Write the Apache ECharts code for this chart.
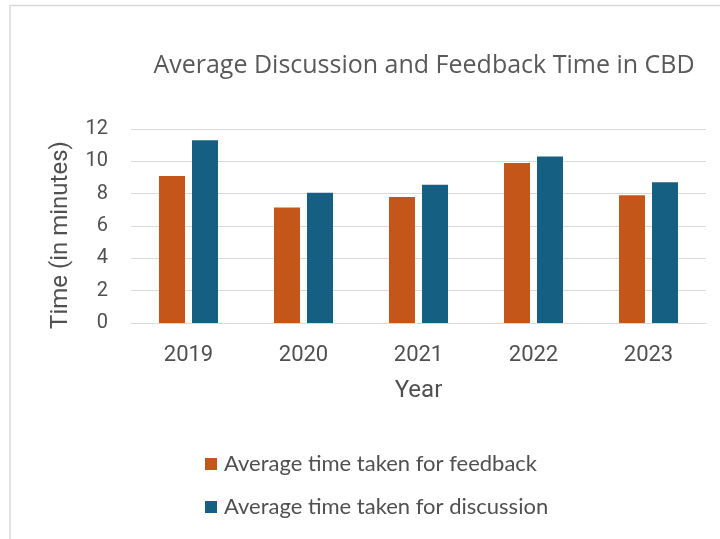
<!DOCTYPE html>
<html>
<head>
<meta charset="utf-8">
<script src="https://cdn.jsdelivr.net/npm/echarts@6/dist/echarts.min.js"></script>
<style>
  html, body { margin: 0; padding: 0; background: #ffffff; }
  #chart { width: 720px; height: 539px; }
</style>
</head>
<body>
<div id="chart"></div>
<script>
// Years on the category axis
const years = ['2019', '2020', '2021', '2022', '2023'];
// Average minutes per year
const feedbackTime = [9.1, 7.15, 7.8, 9.9, 7.9];
const discussionTime = [11.3, 8.05, 8.55, 10.3, 8.7];
// Value-axis ticks
const yTicks = [0, 2, 4, 6, 8, 10, 12];

const seriesNames = ['Average time taken for feedback', 'Average time taken for discussion'];
const colors = ['#C4561A', '#156082'];

const chart = echarts.init(document.getElementById('chart'), null, { renderer: 'canvas' });

chart.setOption({
  animation: false,
  backgroundColor: '#ffffff',
  graphic: [
    {
      type: 'polyline',
      shape: { points: [[10, 540], [10, 5.5], [720, 5.5]] },
      style: { stroke: '#d9d9d9', lineWidth: 1.5, fill: null }
    }
  ],
  title: {
    text: 'Average Discussion and Feedback Time in CBD',
    left: 419,
    top: 48,
    textAlign: 'center',
    textStyle: {
      fontFamily: 'Open Sans',
      fontWeight: 'normal',
      fontSize: 25,
      color: '#595959'
    }
  },
  legend: {
    orient: 'vertical',
    left: 200,
    top: 448,
    itemGap: 21,
    itemWidth: 12,
    itemHeight: 12,
    icon: 'rect',
    data: seriesNames,
    textStyle: {
      fontFamily: 'Lato',
      fontSize: 22,
      color: '#505050',
      padding: [0, 0, 0, 2]
    }
  },
  grid: {
    left: 131,
    right: 14,
    top: 129,
    bottom: 539 - 323
  },
  xAxis: {
    type: 'category',
    data: years,
    name: 'Year',
    nameLocation: 'middle',
    nameGap: 56,
    nameTextStyle: {
      fontFamily: 'Roboto',
      fontSize: 24,
      color: '#505050'
    },
    axisLine: { show: true, lineStyle: { color: '#d9d9d9', width: 1 } },
    axisTick: { show: false },
    axisLabel: {
      margin: 21,
      fontFamily: 'Roboto',
      fontSize: 22,
      color: '#505050'
    }
  },
  yAxis: {
    type: 'value',
    min: yTicks[0],
    max: yTicks[yTicks.length - 1],
    interval: 2,
    name: 'Time (in minutes)',
    nameLocation: 'middle',
    nameGap: 58,
    nameTextStyle: {
      fontFamily: 'Roboto',
      fontSize: 24,
      color: '#505050',
      padding: [0, 18, 0, 0]
    },
    axisLine: { show: false },
    axisTick: { show: false },
    axisLabel: {
      margin: 23,
      fontFamily: 'Roboto',
      fontSize: 20,
      color: '#505050'
    },
    splitLine: { lineStyle: { color: '#d9d9d9', width: 1 } }
  },
  series: [
    {
      name: seriesNames[0],
      type: 'bar',
      data: feedbackTime,
      barWidth: 26,
      barGap: '27%',
      itemStyle: { color: colors[0] }
    },
    {
      name: seriesNames[1],
      type: 'bar',
      data: discussionTime,
      barWidth: 26,
      barGap: '27%',
      itemStyle: { color: colors[1] }
    }
  ]
});
</script>
</body>
</html>
